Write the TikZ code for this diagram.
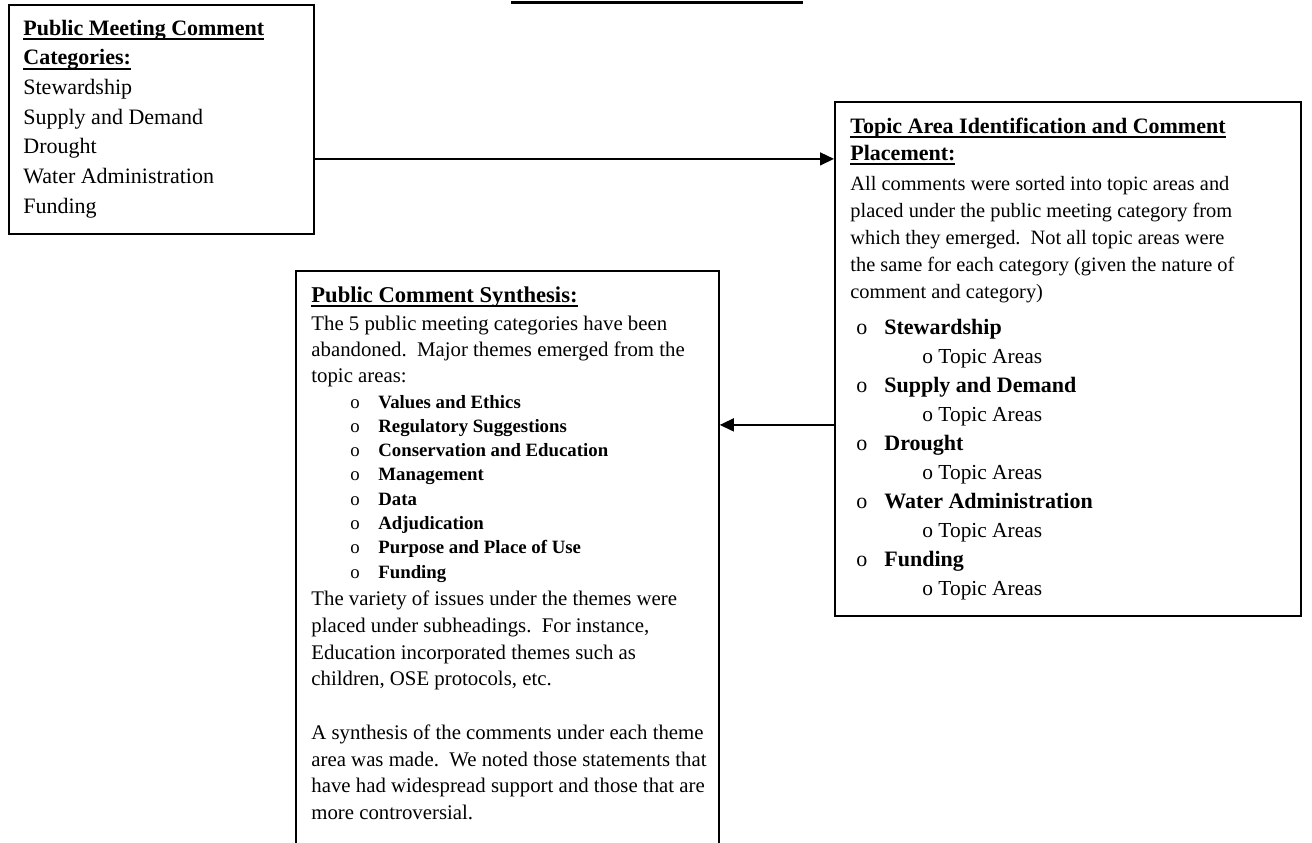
\documentclass[tikz,border=0pt]{standalone}
\usepackage{fontspec}
\setmainfont{Liberation Serif}
\usetikzlibrary{arrows.meta}
\newcommand\undl[1]{\leavevmode\setbox0\hbox{#1}\rlap{\rule[-2.6pt]{\wd0}{0.9pt}}\box0}
\newcommand\bul{\makebox[14pt][l]{\mdseries o}}

\begin{document}
\begin{tikzpicture}[x=0.5pt, y=-0.5pt, >={Triangle[length=7pt, width=6.5pt]}]
    \tikzstyle{box} = [rectangle, draw, line width=0.9pt, inner sep=0, anchor=north west]
    \tikzstyle{txt} = [inner sep=0, anchor=base west]
    \tikzstyle{arr} = [->, line width=0.75pt]

    \useasboundingbox (0,0) rectangle (1312,842);
    \clip (0,0) rectangle (1312,842);

    \draw[line width=1.5pt] (511,2) -- (803,2);

    \node[box, minimum width=152.5pt, minimum height=114.5pt] (cat) at (8,4)    {};
    \node[box, minimum width=233pt,   minimum height=257pt]   (top) at (834,101) {};
    \node[box, minimum width=211.5pt, minimum height=315pt]   (syn) at (295,270) {};

    \node[txt] (catt) at (23,35) {\begin{minipage}[t]{200pt}\fontsize{11}{14.85}\selectfont
      \textbf{\undl{Public Meeting Comment}}\\
      \textbf{\undl{Categories:}}\\
      Stewardship\\
      Supply and Demand\\
      Drought\\
      Water Administration\\
      Funding
    \end{minipage}};

    \node[txt] (topt) at (850,133) {\begin{minipage}[t]{260pt}\setlength\parskip{0pt}
      \fontsize{11}{13.5}\selectfont\bfseries
      \undl{Topic Area Identification and Comment}\\
      \undl{Placement:}\par
      \vspace{1.5pt}
      \fontsize{10.2}{13.5}\selectfont\mdseries
      All comments were sorted into topic areas and\\
      placed under the public meeting category from\\
      which they emerged.\ \ Not all topic areas were\\
      the same for each category (given the nature of\\
      comment and category)\par
      \vspace{3.5pt}
      \fontsize{11}{14.5}\selectfont
      \hspace*{3pt}\bul\textbf{Stewardship}\\
      \hspace*{36pt}{\fontsize{10.7}{14.5}\selectfont o Topic Areas}\\
      \hspace*{3pt}\bul\textbf{Supply and Demand}\\
      \hspace*{36pt}{\fontsize{10.7}{14.5}\selectfont o Topic Areas}\\
      \hspace*{3pt}\bul\textbf{Drought}\\
      \hspace*{36pt}{\fontsize{10.7}{14.5}\selectfont o Topic Areas}\\
      \hspace*{3pt}\bul\textbf{Water Administration}\\
      \hspace*{36pt}{\fontsize{10.7}{14.5}\selectfont o Topic Areas}\\
      \hspace*{3pt}\bul\textbf{Funding}\\
      \hspace*{36pt}{\fontsize{10.7}{14.5}\selectfont o Topic Areas}
    \end{minipage}};

    \node[txt] (synt) at (311,302) {\begin{minipage}[t]{260pt}\setlength\parskip{0pt}
      \fontsize{11.3}{13}\selectfont\bfseries
      \undl{Public Comment Synthesis:}\par
      \vspace{1pt}
      \fontsize{10.4}{13}\selectfont\mdseries
      The 5 public meeting categories have been\\
      abandoned.\ \ Major themes emerged from the\\
      topic areas:\par
      \vspace{0.85pt}
      \fontsize{9.4}{12.15}\selectfont\bfseries
      \hspace*{19.5pt}\bul Values and Ethics\\
      \hspace*{19.5pt}\bul Regulatory Suggestions\\
      \hspace*{19.5pt}\bul Conservation and Education\\
      \hspace*{19.5pt}\bul Management\\
      \hspace*{19.5pt}\bul Data\\
      \hspace*{19.5pt}\bul Adjudication\\
      \hspace*{19.5pt}\bul Purpose and Place of Use\\
      \hspace*{19.5pt}\bul Funding\par
      \vspace{0.5pt}
      \fontsize{10.4}{13.35}\selectfont\mdseries
      The variety of issues under the themes were\\
      placed under subheadings.\ \ For instance,\\
      Education incorporated themes such as\\
      children, OSE protocols, etc.\par
      \vspace{13.35pt}
      A synthesis of the comments under each theme\\
      area was made.\ \ We noted those statements that\\
      have had widespread support and those that are\\
      more controversial.
    \end{minipage}};

    \draw[arr] ([yshift=-19.75pt]cat.east) -- ([yshift=-19.75pt]cat.east -| top.west);
    \draw[arr] ([yshift=-33pt]top.west)    -- ([yshift=-33pt]top.west -| syn.east);
  \end{tikzpicture}
\end{document}
